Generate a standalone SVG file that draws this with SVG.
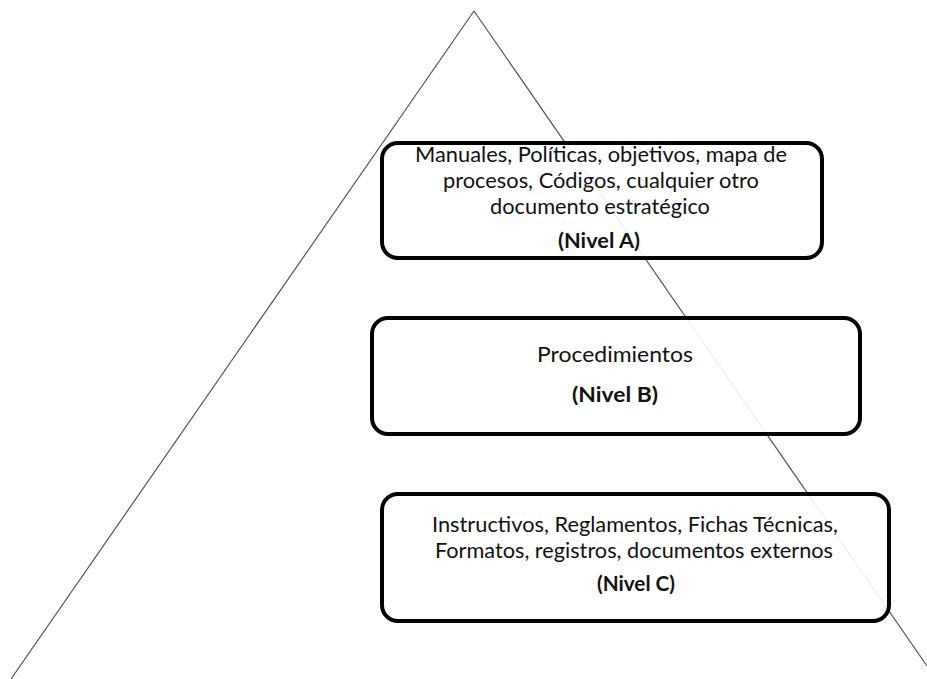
<svg xmlns="http://www.w3.org/2000/svg" width="927" height="679" viewBox="0 0 927 679">
<style>
.box{fill:#ffffff;fill-opacity:0.9;stroke:#000000;stroke-width:4}
.t{font-family:Lato,"Open Sans","Liberation Sans",sans-serif;font-size:21px;fill:#111111;text-anchor:middle}
.b{font-weight:bold}
.edge{stroke:#555555;stroke-width:1.2;fill:none}
</style>
<rect width="927" height="679" fill="#ffffff"/>
<g id="connectors">
<line class="edge" x1="474" y1="11" x2="11" y2="679"/>
<line class="edge" x1="474" y1="11" x2="927" y2="666"/>
</g>
<g id="nivel-a">
<rect class="box" x="382" y="143" width="440" height="115" rx="16"/>
<text class="t" x="601" y="162" textLength="372" lengthAdjust="spacingAndGlyphs">Manuales, Políticas, objetivos, mapa de</text>
<text class="t" x="601" y="188" textLength="316" lengthAdjust="spacingAndGlyphs">procesos, Códigos, cualquier otro</text>
<text class="t" x="600" y="214" textLength="220" lengthAdjust="spacingAndGlyphs">documento estratégico</text>
<text class="t b" x="599" y="248" textLength="82" lengthAdjust="spacingAndGlyphs">(Nivel A)</text>
</g>
<g id="nivel-b">
<rect class="box" x="372" y="318" width="488" height="116" rx="16"/>
<text class="t" x="615" y="362" textLength="156" lengthAdjust="spacingAndGlyphs">Procedimientos</text>
<text class="t b" x="615" y="402" textLength="86" lengthAdjust="spacingAndGlyphs">(Nivel B)</text>
</g>
<g id="nivel-c">
<rect class="box" x="382" y="494" width="507" height="127" rx="16"/>
<text class="t" x="635" y="532" textLength="406" lengthAdjust="spacingAndGlyphs">Instructivos, Reglamentos, Fichas Técnicas,</text>
<text class="t" x="634" y="558" textLength="398" lengthAdjust="spacingAndGlyphs">Formatos, registros, documentos externos</text>
<text class="t b" x="636" y="591" textLength="78" lengthAdjust="spacingAndGlyphs">(Nivel C)</text>
</g>
</svg>
